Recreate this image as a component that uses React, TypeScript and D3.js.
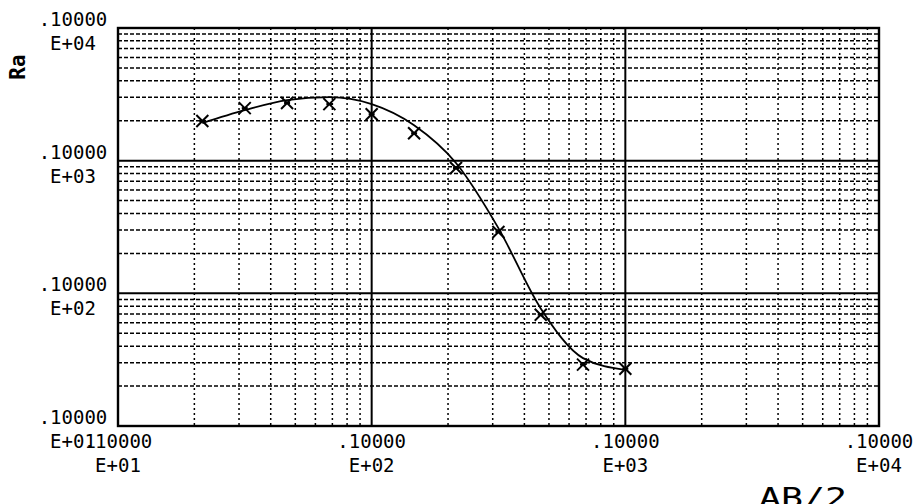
import React from "react";
import * as d3 from "d3";

const abHalf = [21.5, 31.6, 46.4, 68.1, 100, 147, 215, 316, 464, 681, 1000];
const rhoObserved = [1990, 2490, 2720, 2670, 2240, 1610, 880, 290, 69, 29, 27];
const rhoModel = [1920, 2400, 2860, 3010, 2670, 1850, 960, 310, 77, 32.5, 26.5];
const xDecades = [10, 100, 1000, 10000];
const yDecades = [10, 100, 1000, 10000];
const decadeMantissa = ".10000";
const xExpLabels = ["E+01", "E+02", "E+03", "E+04"];
const yExpLabels = ["E+01", "E+02", "E+03", "E+04"];
const xTitle = "AB/2";
const yTitle = "Ra";

const W = 913;
const H = 504;
const L = 118, R = 879, T = 28, B = 426;

export default function App() {
  const x = d3.scaleLog().domain([10, 10000]).range([L, R]);
  const y = d3.scaleLog().domain([10, 10000]).range([B, T]);

  const minor: number[] = [];
  for (let d = 10; d < 10000; d *= 10) {
    for (let k = 2; k <= 9; k++) minor.push(d * k);
  }
  const innerDecades = [100, 1000];

  const line = d3
    .line<number>()
    .x((_, i) => x(abHalf[i]))
    .y((v) => y(v))
    .curve(d3.curveMonotoneX);

  const font = "'DejaVu Sans Mono', monospace";
  const ms = 6;

  return (
    <svg
      width={W}
      height={H}
      style={{ position: "absolute", left: 0, top: 0, background: "#fff" }}
    >
      <rect x={0} y={0} width={W} height={H} fill="#fff" />
      {minor.map((v) => (
        <line
          key={"h" + v}
          x1={L}
          x2={R}
          y1={y(v)}
          y2={y(v)}
          stroke="#000"
          strokeWidth={1.5}
          strokeDasharray="4,2"
        />
      ))}
      {minor.map((v) => (
        <line
          key={"v" + v}
          x1={x(v)}
          x2={x(v)}
          y1={T}
          y2={B}
          stroke="#000"
          strokeWidth={1.5}
          strokeDasharray="2,3"
        />
      ))}
      {innerDecades.map((v) => (
        <g key={"d" + v}>
          <line x1={L} x2={R} y1={y(v)} y2={y(v)} stroke="#000" strokeWidth={2} />
          <line x1={x(v)} x2={x(v)} y1={T} y2={B} stroke="#000" strokeWidth={2} />
        </g>
      ))}
      <rect x={L} y={T} width={R - L} height={B - T} fill="none" stroke="#000" strokeWidth={2.4} />

      <path d={line(rhoModel) || ""} fill="none" stroke="#000" strokeWidth={1.8} />

      {rhoObserved.map((v, i) => {
        const cx = x(abHalf[i]);
        const cy = y(v);
        return (
          <g key={"m" + i} stroke="#000" strokeWidth={2}>
            <line x1={cx - ms} y1={cy - ms} x2={cx + ms} y2={cy + ms} />
            <line x1={cx - ms} y1={cy + ms} x2={cx + ms} y2={cy - ms} />
            <line x1={cx - 3} y1={cy} x2={cx + 3} y2={cy} />
          </g>
        );
      })}

      {yDecades.map((v, i) => (
        <g key={"yl" + v} fontFamily={font} fontSize={19} fill="#000" textAnchor="middle">
          <text x={73} y={y(v) - 2}>{decadeMantissa}</text>
          <text x={73} y={y(v) + 22}>{yExpLabels[i]}</text>
        </g>
      ))}
      {xDecades.map((v, i) => (
        <g key={"xl" + v} fontFamily={font} fontSize={19} fill="#000" textAnchor="middle">
          <text x={x(v)} y={448}>{decadeMantissa}</text>
          <text x={x(v)} y={472}>{xExpLabels[i]}</text>
        </g>
      ))}

      <text
        x={759}
        y={507}
        fontFamily={font}
        fontSize={27}
        textLength={88}
        lengthAdjust="spacingAndGlyphs"
        fill="#000"
      >
        {xTitle}
      </text>
      <text
        transform="translate(25,67) rotate(-90)"
        fontFamily={font}
        fontSize={21}
        fontWeight="bold"
        textAnchor="middle"
        fill="#000"
      >
        {yTitle}
      </text>
    </svg>
  );
}
